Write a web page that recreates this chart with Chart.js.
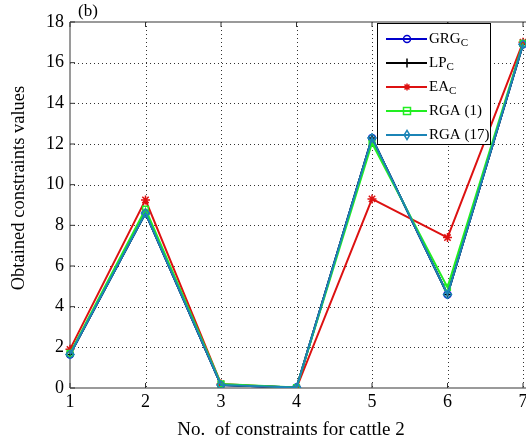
<!DOCTYPE html>
<html><head><meta charset="utf-8">
<script src="https://cdn.jsdelivr.net/npm/chart.js@4/dist/chart.umd.min.js"></script>
<style>
html,body{margin:0;padding:0;background:#fff;overflow:hidden;}
#wrap{width:526px;height:441px;overflow:hidden;position:relative;}
canvas{display:block;}
</style></head>
<body>
<div id="wrap"><canvas id="c" width="560" height="441"></canvas></div>
<script>
const categories = ['1','2','3','4','5','6','7'];
const yTicks = [0,2,4,6,8,10,12,14,16,18];
const grgC   = [1.65, 8.6, 0.15, 0.02, 12.3, 4.6, 16.9];
const lpC    = [1.65, 8.6, 0.15, 0.02, 12.3, 4.6, 16.9];
const eaC    = [1.9, 9.25, 0.2, 0.0, 9.3, 7.4, 17.0];
const rga1   = [1.7, 8.8, 0.2, 0.02, 12.05, 4.95, 16.95];
const rga17  = [1.65, 8.6, 0.15, 0.02, 12.3, 4.6, 16.9];
const legendMain = ['GRG','LP','EA','RGA (1)','RGA (17)'];
const legendSub  = ['C','C','C','',''];
const xTitle = 'No.  of constraints for cattle 2';
const yTitle = 'Obtained constraints values';
const panelLabel = '(b)';

const SERIF = 'Liberation Serif, serif';
Chart.defaults.font.family = SERIF;
const styles = [
  {color:'#0000cc', ps:'circle', r:3.5, order:4},
  {color:'#000000', ps:'cross', r:4, order:3},
  {color:'#dd1111', ps:'star', r:4.5, order:2},
  {color:'#22ee22', ps:'rect', r:4, order:1},
  {color:'#1b84b6', ps:'rectRot', r:4, order:0}
];
const seriesData = [grgC, lpC, eaC, rga1, rga17];

const datasets = seriesData.map((d,i)=>({
  label: legendMain[i] + legendSub[i],
  data: d,
  borderColor: styles[i].color,
  backgroundColor: 'rgba(0,0,0,0)',
  pointBorderColor: styles[i].color,
  pointBackgroundColor: 'rgba(0,0,0,0)',
  pointStyle: styles[i].ps,
  pointRadius: styles[i].r,
  pointBorderWidth: 1.5,
  borderWidth: 2,
  tension: 0,
  order: styles[i].order
}));

function drawMarker(ctx, style, r, x, y, color){
  ctx.save();
  ctx.strokeStyle = color; ctx.lineWidth = 1.5; ctx.beginPath();
  if (style==='circle'){ ctx.arc(x,y,r,0,Math.PI*2); }
  else if (style==='cross'){ ctx.moveTo(x,y-r); ctx.lineTo(x,y+r); ctx.moveTo(x-r,y); ctx.lineTo(x+r,y); }
  else if (style==='star'){ for(let k=0;k<4;k++){const a=k*Math.PI/4; ctx.moveTo(x-r*Math.cos(a),y-r*Math.sin(a)); ctx.lineTo(x+r*Math.cos(a),y+r*Math.sin(a));} }
  else if (style==='rect'){ ctx.rect(x-r,y-r,2*r,2*r); }
  else if (style==='rectRot'){ ctx.moveTo(x,y-r*1.3); ctx.lineTo(x+r*0.8,y); ctx.lineTo(x,y+r*1.3); ctx.lineTo(x-r*0.8,y); ctx.closePath(); }
  ctx.stroke(); ctx.restore();
}

const decor = {
  id:'decor',
  beforeDatasetsDraw(chart){
    const ctx = chart.ctx, a = chart.chartArea;
    const xs = chart.scales.x, ys = chart.scales.y;
    ctx.save();
    ctx.strokeStyle = '#333'; ctx.lineWidth = 1; ctx.setLineDash([1,3]);
    ctx.beginPath();
    categories.forEach((c,i)=>{ if(i===0) return; const px = Math.round(xs.getPixelForValue(i))+0.5; ctx.moveTo(px, a.top); ctx.lineTo(px, a.bottom);});
    yTicks.forEach(v=>{ if(v===0||v===18) return; const py = Math.round(ys.getPixelForValue(v))+0.5; ctx.moveTo(a.left, py); ctx.lineTo(a.right+20, py);});
    ctx.stroke();
    ctx.setLineDash([]);
    ctx.strokeStyle = '#7a7a7a'; ctx.lineWidth = 1.5;
    ctx.beginPath();
    ctx.moveTo(a.left, a.top); ctx.lineTo(a.right+20, a.top);
    ctx.moveTo(a.left, a.top); ctx.lineTo(a.left, a.bottom);
    ctx.moveTo(a.left, a.bottom); ctx.lineTo(a.right+20, a.bottom);
    ctx.stroke();
    ctx.strokeStyle = '#333'; ctx.lineWidth = 1;
    ctx.beginPath();
    categories.forEach((c,i)=>{ const px = xs.getPixelForValue(i); ctx.moveTo(px, a.bottom); ctx.lineTo(px, a.bottom-5); ctx.moveTo(px,a.top); ctx.lineTo(px,a.top+5);});
    yTicks.forEach(v=>{ const py = ys.getPixelForValue(v); ctx.moveTo(a.left, py); ctx.lineTo(a.left+5, py);});
    ctx.stroke();
    ctx.restore();
  },
  afterDraw(chart){
    const ctx = chart.ctx;
    ctx.save();
    ctx.fillStyle = '#000';
    ctx.font = '19px ' + SERIF;
    ctx.textAlign = 'center'; ctx.textBaseline = 'middle';
    ctx.fillText(xTitle, 291, 430);
    ctx.save();
    ctx.font = '18.5px ' + SERIF;
    ctx.translate(19, 188); ctx.rotate(-Math.PI/2);
    ctx.fillText(yTitle, 0, 0);
    ctx.restore();
    ctx.font = '17px ' + SERIF; ctx.textAlign = 'left';
    ctx.fillText(panelLabel, 78, 12);
    // legend
    const lx = 377, ly = 23, lw = 113, lh = 121;
    ctx.fillStyle = '#fff'; ctx.fillRect(lx, ly, lw, lh);
    ctx.strokeStyle = '#000'; ctx.lineWidth = 1; ctx.strokeRect(lx+0.5, ly+0.5, lw, lh);
    legendMain.forEach((t,i)=>{
      const y = 39 + i*24;
      const s = styles[i];
      ctx.strokeStyle = s.color; ctx.lineWidth = 2;
      ctx.beginPath(); ctx.moveTo(386, y); ctx.lineTo(427, y); ctx.stroke();
      drawMarker(ctx, s.ps, s.ps==='cross'?4.5:3.5, 407, y, s.color);
      ctx.fillStyle = '#000'; ctx.textAlign = 'left'; ctx.textBaseline = 'middle';
      ctx.font = '15px ' + SERIF;
      ctx.fillText(t, 429, y);
      if (legendSub[i]) {
        const w = ctx.measureText(t).width;
        ctx.font = '11px ' + SERIF;
        ctx.fillText(legendSub[i], 429 + w, y + 4);
      }
    });
    ctx.restore();
  }
};

new Chart(document.getElementById('c'), {
  type: 'line',
  data: { labels: categories, datasets },
  options: {
    responsive: false,
    animation: false,
    devicePixelRatio: 1,
    layout: { padding: { top: 22, right: 37, left: 0, bottom: 0 } },
    plugins: { legend: { display: false }, tooltip: { enabled: false } },
    scales: {
      x: {
        offset: false,
        grid: { display: false, drawTicks: false },
        border: { display: false },
        ticks: { color: '#000', font: { family: SERIF, size: 18 }, padding: 3, maxRotation: 0 },
        afterFit: s => { s.height = 53; }
      },
      y: {
        min: 0, max: 18,
        afterBuildTicks: s => { s.ticks = yTicks.map(v => ({ value: v })); },
        grid: { display: false, drawTicks: false },
        border: { display: false },
        ticks: { color: '#000', font: { family: SERIF, size: 18 }, padding: 6 },
        afterFit: s => { s.width = 70; }
      }
    }
  },
  plugins: [decor]
});
</script>
</body></html>
